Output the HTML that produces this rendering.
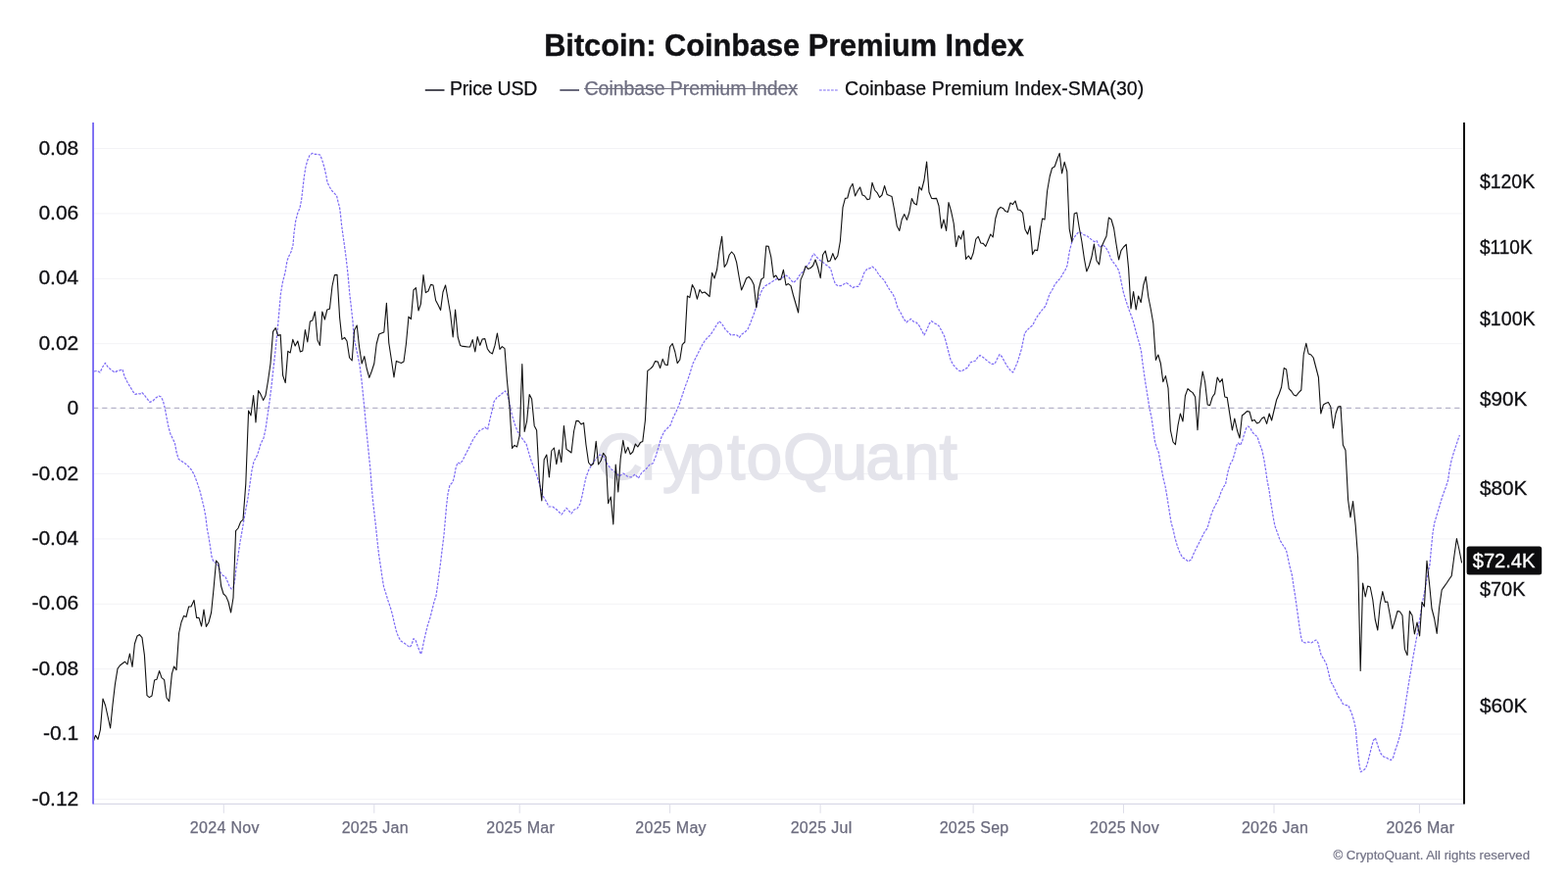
<!DOCTYPE html>
<html><head><meta charset="utf-8"><title>Bitcoin: Coinbase Premium Index</title>
<style>
html,body{margin:0;padding:0;background:#fff;}
body{width:1600px;height:900px;overflow:hidden;position:relative;font-family:"Liberation Sans",Arial,sans-serif;}
svg{position:absolute;left:0;top:0;}
text{font-family:"Liberation Sans",Arial,sans-serif;}
.yl{font-size:21px;letter-spacing:0px;fill:#0e0e12;stroke:#0e0e12;stroke-width:0.3px;text-anchor:end;}
.yr{font-size:20.7px;fill:#0e0e12;stroke:#0e0e12;stroke-width:0.3px;text-anchor:start;}
.xl{font-size:16px;letter-spacing:0.3px;fill:#6b6b7e;stroke:#6b6b7e;stroke-width:0.25px;text-anchor:middle;}
.lg{font-size:19.5px;fill:#0e0e12;stroke:#0e0e12;stroke-width:0.25px;}
</style></head>
<body>
<svg width="1600" height="900" viewBox="0 0 1600 900">
<rect width="1600" height="900" fill="#fff"/>
<!-- title -->
<text id="title" x="800" y="57" text-anchor="middle" font-size="31.8" font-weight="bold" fill="#111114" stroke="#111114" stroke-width="0.4" textLength="489.6" lengthAdjust="spacingAndGlyphs">Bitcoin: Coinbase Premium Index</text>
<!-- legend -->
<g id="legend">
<line x1="433.8" y1="92" x2="453.5" y2="92" stroke="#4e4e58" stroke-width="2"/>
<text class="lg" x="459" y="96.5" textLength="89.3">Price USD</text>
<line x1="571.3" y1="92" x2="591" y2="92" stroke="#6a6a7c" stroke-width="2"/>
<text class="lg" x="596.6" y="96.5" fill="#6e6e80" style="fill:#6e6e80;stroke:#6e6e80" textLength="217.5">Coinbase Premium Index</text>
<line x1="596" y1="90.5" x2="814" y2="90.5" stroke="#6e6e80" stroke-width="1.15"/>
<line x1="836" y1="92" x2="855" y2="92" stroke="#7c6af4" stroke-width="1.2" stroke-dasharray="2.7 1.3"/>
<text class="lg" x="862" y="96.5" letter-spacing="0.1">Coinbase Premium Index-SMA(30)</text>
</g>
<!-- gridlines -->
<g id="grid" stroke="#f3f3f6" stroke-width="1">
<line x1="96" x2="1492.5" y1="151.5" y2="151.5"/>
<line x1="96" x2="1492.5" y1="217.9" y2="217.9"/>
<line x1="96" x2="1492.5" y1="284.3" y2="284.3"/>
<line x1="96" x2="1492.5" y1="350.7" y2="350.7"/>
<line x1="96" x2="1492.5" y1="483.5" y2="483.5"/>
<line x1="96" x2="1492.5" y1="549.9" y2="549.9"/>
<line x1="96" x2="1492.5" y1="616.3" y2="616.3"/>
<line x1="96" x2="1492.5" y1="682.7" y2="682.7"/>
<line x1="96" x2="1492.5" y1="749.1" y2="749.1"/>
<line x1="96" x2="1492.5" y1="815.5" y2="815.5"/>
</g>
<line x1="96" x2="1492.5" y1="417" y2="417" stroke="#f3f3f6" stroke-width="1"/>
<line id="zero" x1="95" x2="1493" y1="416.4" y2="416.4" stroke="#b7b5ca" stroke-width="1.3" stroke-dasharray="5.2 4"/>
<!-- bottom axis -->
<line x1="95" x2="1494" y1="820.4" y2="820.4" stroke="#d9d9e7" stroke-width="1.2"/>
<g id="xticks" stroke="#dddde8" stroke-width="1">
<line x1="228.3" x2="228.3" y1="820.5" y2="829.8"/>
<line x1="381.8" x2="381.8" y1="820.5" y2="829.8"/>
<line x1="530.2" x2="530.2" y1="820.5" y2="829.8"/>
<line x1="683.6" x2="683.6" y1="820.5" y2="829.8"/>
<line x1="837.1" x2="837.1" y1="820.5" y2="829.8"/>
<line x1="993.1" x2="993.1" y1="820.5" y2="829.8"/>
<line x1="1146.5" x2="1146.5" y1="820.5" y2="829.8"/>
<line x1="1300.0" x2="1300.0" y1="820.5" y2="829.8"/>
<line x1="1448.4" x2="1448.4" y1="820.5" y2="829.8"/>
</g>
<!-- watermark -->
<text id="wm" x="608.3 653.9 676.0 702.2 742.0 761.4 799.0 848.5 883.3 922.0 958.6" y="488.8" font-size="66" fill="#e4e4eb" stroke="#e4e4eb" stroke-width="1.6">CryptoQuant</text>
<!-- series placeholder -->
<g id="series" fill="none" stroke-linejoin="round">
<path id="sma" d="M96.0 379.0 L99.0 378.4 L102.0 380.0 L105.0 374.0 L107.4 370.4 L110.0 374.4 L113.0 377.0 L117.0 380.0 L120.0 378.4 L123.0 377.6 L125.0 377.0 L127.0 384.0 L130.0 390.0 L133.0 395.0 L136.0 400.0 L138.0 402.4 L141.0 401.6 L143.0 402.0 L145.0 400.6 L148.0 404.0 L151.0 408.0 L153.0 410.4 L156.0 409.0 L159.0 406.0 L162.0 404.0 L164.4 405.0 L166.4 409.0 L168.4 417.0 L170.0 426.0 L172.0 436.0 L174.0 443.0 L176.4 448.0 L178.4 452.0 L180.0 461.0 L182.0 468.0 L184.0 470.0 L186.0 471.0 L189.0 473.0 L192.0 475.6 L195.0 479.0 L198.0 484.0 L201.0 492.0 L204.0 501.0 L206.0 509.0 L208.4 519.0 L210.0 528.0 L211.4 540.0 L213.0 548.0 L214.4 557.0 L216.0 568.0 L218.0 573.6 L221.0 574.4 L223.0 578.0 L225.0 584.0 L227.0 587.0 L230.0 588.4 L232.0 593.0 L234.0 598.0 L236.0 601.0 L238.0 600.0 L239.6 592.0 L241.0 580.0 L243.0 567.0 L245.0 553.0 L247.0 542.0 L249.0 530.0 L251.0 519.0 L253.0 508.0 L255.0 494.0 L257.0 480.0 L259.0 471.0 L262.0 465.6 L264.0 460.0 L266.0 453.0 L269.0 447.0 L271.0 438.0 L273.0 424.0 L275.0 410.0 L277.0 394.0 L279.0 376.0 L281.0 358.0 L282.4 344.0 L283.6 332.0 L285.0 316.0 L286.4 300.0 L288.4 288.0 L291.0 278.0 L293.0 266.0 L295.0 261.0 L297.0 257.0 L299.0 250.0 L300.0 238.0 L301.6 226.0 L303.6 218.0 L306.0 212.0 L307.6 204.0 L309.0 192.0 L310.4 180.0 L312.0 170.0 L314.0 163.0 L316.0 158.6 L318.6 156.4 L321.6 157.4 L324.0 157.4 L326.6 158.0 L328.6 163.0 L331.0 171.0 L333.0 180.0 L334.0 186.0 L336.4 191.0 L339.0 195.0 L341.6 197.6 L343.6 200.0 L345.0 206.0 L346.6 212.0 L347.6 220.0 L348.6 230.0 L350.0 240.0 L351.4 250.0 L353.0 262.0 L354.4 274.0 L355.6 286.0 L356.8 300.0 L358.0 310.0 L360.0 328.0 L361.0 344.0 L363.6 356.0 L367.0 372.0 L369.0 388.0 L370.6 404.0 L372.0 418.0 L373.6 436.0 L375.0 450.0 L376.4 464.0 L378.0 480.0 L379.0 494.0 L380.4 510.0 L382.0 524.0 L383.6 538.0 L385.0 552.0 L386.6 566.0 L388.4 578.0 L390.0 589.0 L391.6 599.0 L393.6 605.0 L396.0 613.0 L398.4 620.0 L400.4 627.0 L402.4 636.0 L404.4 644.0 L406.4 649.6 L409.0 654.0 L412.0 656.0 L415.0 658.0 L418.0 660.6 L420.0 658.0 L422.0 651.6 L424.4 654.0 L426.4 660.0 L428.4 665.0 L429.6 667.6 L431.0 662.0 L432.6 654.0 L434.4 646.0 L436.4 638.0 L439.0 630.0 L441.0 622.0 L443.0 614.0 L445.0 608.0 L446.4 598.0 L448.0 586.0 L449.6 574.0 L451.0 562.0 L453.0 546.0 L454.4 530.0 L455.6 516.0 L457.0 504.0 L459.0 495.0 L462.0 492.0 L463.6 486.0 L465.0 478.0 L467.0 472.0 L469.6 473.0 L472.0 470.0 L474.4 465.0 L477.0 460.0 L480.0 454.0 L483.0 448.0 L486.0 443.6 L489.0 439.6 L492.0 438.0 L495.0 436.0 L497.6 438.4 L499.0 432.0 L500.6 425.0 L502.4 418.0 L504.0 410.0 L507.0 405.6 L510.0 403.6 L513.0 401.0 L515.6 399.0 L518.0 403.0 L520.0 412.0 L522.0 422.0 L525.0 432.0 L528.0 440.0 L531.0 445.0 L534.0 449.0 L537.0 453.0 L539.0 460.0 L542.0 470.0 L545.0 478.0 L548.0 486.0 L551.0 496.0 L554.0 506.0 L557.0 511.0 L560.0 517.0 L564.0 517.0 L568.0 520.0 L573.0 525.0 L578.0 518.4 L583.0 524.0 L586.0 520.0 L589.0 519.0 L592.0 514.0 L594.0 506.0 L596.0 496.0 L598.0 487.0 L601.0 479.0 L604.0 474.0 L608.0 468.0 L612.0 464.0 L616.0 466.0 L620.0 474.0 L624.0 479.0 L628.0 482.0 L632.0 486.0 L636.0 483.0 L640.0 486.0 L644.0 487.0 L648.0 484.0 L651.4 488.0 L655.0 482.0 L659.0 479.0 L663.0 474.0 L666.0 473.0 L669.0 466.0 L672.0 456.0 L675.0 446.0 L678.0 440.0 L681.0 437.0 L684.0 434.0 L687.0 426.0 L690.0 420.0 L693.0 413.0 L696.0 404.0 L699.0 395.0 L702.0 387.0 L704.0 381.0 L707.0 371.0 L710.0 365.0 L713.0 359.0 L716.0 353.0 L719.0 348.0 L722.0 344.4 L725.0 341.6 L728.0 337.0 L731.0 332.0 L734.0 327.6 L737.0 331.0 L740.0 336.0 L743.0 339.0 L746.0 342.0 L749.0 341.6 L752.0 342.0 L754.4 344.4 L757.0 341.0 L760.0 339.0 L763.0 336.0 L766.0 329.0 L769.0 321.0 L772.0 312.0 L775.0 302.0 L778.0 295.0 L781.0 291.6 L784.0 290.0 L787.0 288.0 L790.0 286.0 L793.0 284.4 L796.0 285.0 L799.0 283.0 L802.0 281.0 L805.0 283.0 L807.0 285.6 L809.4 288.4 L812.0 286.4 L814.0 284.0 L817.0 279.0 L820.0 277.0 L823.0 272.0 L826.0 268.0 L829.0 261.0 L830.6 259.0 L833.0 262.0 L836.0 265.0 L839.0 267.0 L842.0 269.6 L845.0 271.6 L847.6 274.0 L850.0 283.0 L852.4 290.0 L855.0 291.6 L858.0 291.6 L861.0 290.0 L863.6 288.6 L867.0 291.0 L870.0 293.6 L873.0 292.4 L876.0 292.4 L879.0 286.0 L882.0 278.0 L885.0 274.4 L888.0 273.6 L890.0 272.0 L893.0 274.4 L896.0 279.0 L899.0 283.0 L902.0 285.6 L905.0 291.0 L908.0 296.0 L911.0 300.0 L913.0 304.0 L916.0 314.0 L919.0 319.0 L922.0 325.0 L925.0 329.0 L927.0 327.0 L929.6 325.4 L932.0 328.0 L935.0 329.0 L938.0 332.4 L943.0 342.0 L946.0 336.0 L948.4 330.0 L950.4 327.6 L953.0 329.6 L956.0 331.0 L958.4 333.0 L961.0 338.0 L963.6 343.0 L965.6 350.0 L967.6 358.0 L970.0 367.0 L972.4 372.0 L975.0 375.0 L978.0 378.0 L981.0 379.0 L984.0 377.0 L987.6 375.0 L990.0 370.0 L992.4 369.0 L995.6 368.0 L998.0 364.0 L1000.0 362.6 L1003.0 364.4 L1006.0 367.0 L1009.0 369.4 L1012.0 371.4 L1015.0 371.4 L1017.6 366.0 L1020.0 361.6 L1022.4 364.0 L1025.0 369.0 L1028.0 374.0 L1031.0 378.0 L1033.6 380.0 L1036.0 375.0 L1038.4 369.0 L1040.6 362.0 L1042.4 356.0 L1044.0 348.0 L1045.6 340.0 L1048.0 337.0 L1051.0 334.0 L1054.0 331.6 L1056.0 327.0 L1059.0 322.0 L1062.0 318.0 L1065.0 314.4 L1067.0 312.0 L1069.0 306.0 L1071.0 300.0 L1073.6 296.0 L1076.0 291.0 L1079.0 287.0 L1082.0 284.0 L1084.4 279.6 L1087.0 275.6 L1089.0 271.0 L1090.4 262.0 L1091.6 255.0 L1093.0 250.0 L1094.0 246.0 L1097.0 241.0 L1100.0 237.4 L1103.0 237.4 L1106.0 239.6 L1109.0 240.6 L1112.0 243.0 L1115.0 245.6 L1117.0 246.6 L1119.0 245.6 L1122.0 252.4 L1125.0 250.0 L1128.0 252.0 L1131.0 257.0 L1133.6 264.0 L1136.0 267.6 L1139.0 271.6 L1141.6 276.0 L1143.0 282.0 L1144.4 289.0 L1146.0 297.0 L1148.0 304.0 L1150.0 310.0 L1152.4 317.0 L1155.0 324.0 L1157.0 330.0 L1159.0 338.0 L1161.0 345.0 L1163.0 352.0 L1164.6 359.0 L1165.6 368.0 L1167.0 378.0 L1168.4 388.0 L1170.0 398.0 L1171.6 408.0 L1173.0 417.0 L1175.0 426.0 L1177.0 440.0 L1178.4 450.0 L1180.0 456.0 L1182.4 462.0 L1184.0 472.0 L1185.6 480.0 L1187.0 488.0 L1189.0 496.0 L1190.6 505.0 L1192.0 514.0 L1193.6 524.0 L1195.0 533.0 L1197.0 540.0 L1199.0 549.0 L1201.6 558.0 L1204.0 564.0 L1206.6 569.0 L1209.6 570.4 L1212.4 573.0 L1215.6 571.0 L1218.0 565.0 L1220.4 560.0 L1223.0 555.0 L1226.0 549.0 L1229.0 543.0 L1232.0 539.0 L1234.0 532.0 L1236.0 525.0 L1238.4 519.0 L1241.0 514.0 L1243.6 509.0 L1246.0 502.0 L1248.4 497.0 L1250.6 494.0 L1252.0 486.0 L1253.6 479.0 L1255.6 473.0 L1258.0 469.0 L1260.0 462.0 L1262.0 454.0 L1263.6 452.0 L1265.6 454.4 L1267.6 450.0 L1269.6 443.0 L1271.6 437.0 L1273.6 435.0 L1275.6 436.4 L1278.0 441.0 L1280.4 443.6 L1283.0 445.6 L1285.0 452.0 L1288.0 460.0 L1290.0 470.0 L1291.6 480.0 L1293.0 490.0 L1295.0 500.0 L1296.4 510.0 L1298.0 520.0 L1299.6 530.0 L1301.0 537.0 L1303.6 544.0 L1306.0 551.0 L1309.0 556.0 L1312.4 561.0 L1314.0 568.0 L1315.6 576.0 L1317.6 584.0 L1318.4 587.0 L1320.0 598.0 L1321.6 608.0 L1323.0 618.0 L1324.4 628.0 L1326.0 640.0 L1327.6 650.0 L1329.0 655.0 L1332.0 656.0 L1335.0 655.0 L1338.0 656.0 L1341.0 654.0 L1343.0 653.0 L1345.0 656.0 L1348.0 668.0 L1351.0 673.0 L1353.6 678.0 L1355.6 686.0 L1357.6 695.0 L1360.0 699.0 L1363.0 705.0 L1365.6 711.0 L1368.0 713.6 L1370.4 718.4 L1373.0 719.4 L1376.0 720.0 L1378.0 725.0 L1380.0 730.0 L1382.0 737.0 L1383.4 744.0 L1384.4 756.0 L1385.6 768.0 L1387.0 780.0 L1388.4 787.6 L1391.0 786.4 L1393.6 784.0 L1395.6 778.0 L1397.6 770.0 L1399.6 762.0 L1401.4 755.6 L1403.4 753.0 L1405.0 758.0 L1407.0 764.0 L1409.0 769.0 L1411.6 772.0 L1414.4 773.0 L1417.0 774.6 L1419.4 775.6 L1421.6 773.0 L1423.6 766.0 L1426.0 759.0 L1428.4 751.0 L1430.4 742.0 L1432.0 733.0 L1433.6 723.0 L1435.0 713.0 L1436.6 703.0 L1438.0 694.0 L1439.4 686.0 L1441.0 676.0 L1442.4 668.0 L1446.0 648.0 L1448.0 636.0 L1450.0 624.0 L1452.0 612.0 L1454.0 602.0 L1456.0 590.0 L1459.0 576.0 L1460.4 560.0 L1462.0 544.0 L1463.6 534.0 L1466.0 526.0 L1469.0 516.0 L1472.0 506.0 L1475.0 498.0 L1477.6 490.0 L1479.0 480.0 L1481.0 470.0 L1483.6 461.0 L1486.0 454.0 L1488.0 448.0 L1489.4 444.0" stroke="#7c6af4" stroke-width="1.2" stroke-dasharray="2.7 1.3"/>
<path id="price" d="M95.2 757.0 L97.4 750.4 L100.0 754.4 L102.4 744.6 L105.0 713.0 L107.6 720.0 L110.0 731.0 L112.6 743.0 L115.0 719.0 L117.4 698.4 L120.0 682.4 L122.4 679.0 L125.0 677.0 L127.4 675.2 L130.0 678.0 L132.4 667.0 L135.0 680.4 L137.4 657.0 L140.0 649.0 L142.4 647.6 L145.0 650.6 L147.4 668.4 L150.0 709.6 L152.4 711.6 L155.0 710.0 L157.6 694.0 L160.0 693.2 L162.6 684.6 L165.0 691.6 L167.6 693.6 L170.0 712.0 L172.6 715.6 L175.4 687.6 L177.6 680.0 L180.0 683.6 L182.6 646.0 L185.0 635.0 L187.6 628.4 L190.0 629.6 L192.6 619.0 L195.0 619.0 L198.0 612.4 L200.6 630.4 L203.0 630.4 L205.6 639.0 L208.0 622.0 L210.4 639.4 L213.0 635.0 L215.6 625.0 L218.0 601.0 L220.6 572.0 L223.0 575.0 L225.6 598.0 L228.0 606.0 L230.6 608.4 L233.0 614.0 L235.6 625.0 L238.0 610.0 L240.6 541.6 L243.0 539.0 L245.6 532.4 L248.0 530.4 L250.8 493.6 L253.6 419.0 L256.0 424.0 L258.6 403.6 L261.0 431.0 L263.6 398.6 L266.0 402.4 L268.6 408.4 L271.0 403.6 L273.6 388.0 L276.0 371.0 L278.6 338.4 L281.2 334.6 L283.6 342.4 L286.2 341.6 L288.6 383.0 L291.2 390.6 L293.8 358.4 L296.2 360.0 L298.8 346.4 L301.2 353.0 L303.8 348.0 L306.4 359.0 L308.8 358.0 L311.4 336.6 L313.8 349.0 L316.4 328.0 L318.8 327.0 L321.4 318.0 L324.0 347.0 L326.4 352.4 L328.8 318.0 L331.4 326.0 L333.8 316.0 L336.4 315.2 L339.0 292.0 L341.4 280.6 L344.0 280.4 L346.6 324.0 L349.0 346.4 L351.6 344.4 L354.0 348.0 L356.6 365.0 L359.2 368.0 L361.6 337.0 L364.2 332.0 L366.6 354.0 L369.2 371.0 L371.8 363.6 L374.2 376.0 L376.8 385.4 L379.2 379.0 L381.8 371.0 L384.2 351.0 L386.8 341.0 L389.2 340.0 L391.8 339.0 L394.4 309.4 L396.8 350.0 L399.4 367.0 L402.0 385.0 L404.4 368.4 L407.0 369.6 L409.4 370.4 L412.0 369.0 L414.4 351.0 L417.0 323.0 L419.4 325.6 L422.0 296.0 L424.4 293.6 L427.0 317.0 L429.4 310.0 L432.0 280.6 L434.4 298.6 L437.0 297.0 L439.6 290.4 L442.0 291.0 L444.6 306.4 L447.0 311.0 L449.6 316.4 L452.0 298.0 L454.6 291.0 L457.2 306.0 L459.6 320.0 L462.2 344.0 L464.6 316.0 L467.2 344.0 L469.6 352.4 L472.2 353.4 L474.6 353.6 L477.2 354.0 L479.6 354.0 L482.2 346.6 L484.8 359.0 L487.2 343.6 L489.8 352.4 L492.2 346.0 L494.8 345.6 L497.4 356.0 L499.8 359.4 L502.4 361.0 L505.0 352.4 L507.4 340.0 L510.0 356.4 L512.4 353.6 L515.0 355.6 L517.4 388.0 L520.0 415.0 L522.6 457.4 L525.0 454.4 L527.6 456.0 L530.2 444.4 L532.8 371.6 L535.2 440.4 L537.6 430.0 L540.2 402.6 L542.6 407.0 L545.2 434.4 L547.6 439.0 L550.2 488.0 L552.8 511.0 L555.2 469.0 L557.8 464.0 L560.4 487.0 L562.8 460.0 L565.4 457.0 L567.8 473.6 L570.4 459.0 L572.8 471.6 L575.4 434.6 L578.0 458.4 L580.4 460.0 L583.0 462.0 L585.6 440.0 L588.0 429.4 L590.4 429.6 L593.0 433.0 L595.6 431.6 L598.0 454.0 L600.6 472.0 L603.0 475.0 L605.6 473.0 L608.2 450.4 L610.6 474.0 L613.2 470.0 L615.6 462.4 L618.2 466.0 L620.6 513.6 L623.2 507.0 L625.8 535.0 L628.2 474.0 L630.8 502.0 L633.2 468.0 L635.8 449.4 L638.2 462.4 L640.8 456.4 L643.2 463.6 L645.8 461.0 L648.4 453.0 L650.8 456.0 L653.4 451.6 L655.8 450.4 L658.4 429.0 L660.8 378.4 L663.6 376.4 L666.0 374.0 L668.6 368.6 L671.2 369.0 L673.6 375.6 L676.2 366.4 L678.6 372.0 L681.2 372.6 L683.6 354.0 L686.2 350.6 L688.8 359.0 L691.2 370.6 L693.8 367.0 L696.2 351.6 L698.8 349.0 L701.4 302.0 L703.8 303.6 L706.4 290.6 L708.8 295.0 L711.4 305.2 L714.0 295.6 L716.4 299.0 L719.0 298.0 L721.4 300.0 L724.0 302.6 L726.6 278.4 L729.0 284.0 L731.6 275.0 L734.0 256.4 L736.6 241.4 L739.2 272.4 L741.6 269.0 L744.2 260.0 L746.6 257.0 L749.2 260.0 L751.6 267.6 L754.2 283.0 L756.6 296.0 L759.2 290.0 L761.6 284.0 L764.2 282.4 L766.8 285.6 L769.2 290.4 L771.8 314.0 L774.2 295.0 L776.8 285.0 L779.2 283.4 L781.8 251.0 L784.2 251.4 L786.8 262.4 L789.4 283.0 L791.8 281.0 L794.4 285.6 L796.8 285.0 L799.4 275.4 L802.0 291.0 L804.4 289.6 L807.0 291.6 L809.4 301.0 L812.0 310.0 L814.6 319.0 L817.0 285.6 L819.6 279.6 L822.0 271.6 L824.6 274.4 L827.0 273.6 L829.6 271.0 L832.0 265.0 L834.6 273.0 L837.2 283.6 L839.6 260.0 L842.2 256.0 L844.8 267.0 L847.2 266.0 L849.8 258.6 L852.2 265.0 L854.8 261.0 L857.4 246.0 L860.0 211.6 L862.4 202.4 L864.8 202.0 L867.4 192.0 L870.0 187.4 L872.6 200.0 L875.0 195.0 L877.6 191.0 L880.0 199.0 L882.4 200.0 L885.0 203.6 L887.6 203.0 L890.0 186.4 L892.6 194.0 L895.0 196.6 L897.6 201.4 L900.0 199.0 L902.6 189.6 L905.2 198.6 L907.6 199.6 L910.0 200.4 L912.6 214.0 L915.2 230.4 L917.8 235.4 L920.2 224.0 L922.8 218.6 L925.4 224.4 L927.8 217.0 L930.4 202.6 L932.8 207.6 L935.4 209.0 L938.0 190.6 L940.4 194.0 L943.0 184.0 L945.6 165.0 L948.0 196.0 L950.6 202.4 L953.0 202.6 L955.6 202.4 L958.0 210.0 L960.6 233.0 L963.0 224.0 L965.6 235.4 L968.0 206.6 L970.6 215.6 L973.2 228.0 L975.6 251.6 L978.2 240.6 L980.6 244.0 L983.2 235.4 L985.6 264.4 L988.2 261.0 L990.8 264.6 L993.2 258.0 L995.8 244.0 L998.2 241.4 L1000.8 248.0 L1003.2 248.4 L1005.8 251.4 L1008.4 245.0 L1010.8 239.0 L1013.2 242.0 L1015.8 223.0 L1018.4 214.0 L1021.0 211.4 L1023.4 212.4 L1026.0 215.6 L1028.4 216.4 L1031.0 207.0 L1033.4 208.6 L1036.0 205.0 L1038.6 214.0 L1041.0 214.4 L1043.6 217.4 L1046.0 234.0 L1048.6 239.0 L1051.0 230.6 L1053.6 259.6 L1056.0 255.0 L1058.6 255.6 L1061.2 238.0 L1063.6 223.0 L1066.0 224.0 L1068.6 195.0 L1071.2 180.0 L1073.6 171.4 L1076.2 170.0 L1078.6 163.0 L1081.2 156.4 L1083.6 177.0 L1086.2 165.4 L1088.8 175.0 L1091.2 233.6 L1093.8 247.0 L1096.2 218.0 L1098.8 217.0 L1101.2 232.0 L1103.8 246.0 L1106.4 264.0 L1108.8 277.0 L1111.4 271.0 L1114.0 262.0 L1116.4 249.0 L1119.0 266.0 L1121.6 270.0 L1124.0 252.0 L1126.6 246.0 L1129.0 241.0 L1131.4 222.0 L1134.0 224.0 L1136.6 233.0 L1139.0 249.0 L1141.6 265.0 L1144.0 255.6 L1146.6 252.0 L1149.2 249.4 L1151.6 274.0 L1154.0 315.0 L1156.6 297.6 L1159.2 316.0 L1161.6 302.0 L1164.2 308.6 L1166.8 291.0 L1169.2 282.4 L1171.8 303.0 L1174.4 316.0 L1176.8 330.0 L1179.4 367.4 L1181.8 362.0 L1184.4 371.0 L1186.8 389.6 L1189.4 383.6 L1192.0 396.0 L1194.4 439.0 L1197.0 451.0 L1199.4 453.6 L1202.0 434.0 L1204.4 422.0 L1207.0 430.0 L1209.4 404.0 L1212.0 396.6 L1214.6 399.0 L1217.0 400.6 L1219.6 405.0 L1222.0 438.6 L1224.6 398.0 L1227.2 379.0 L1229.6 390.0 L1232.2 413.0 L1234.6 413.6 L1237.2 405.0 L1239.6 401.6 L1242.2 385.0 L1244.8 390.0 L1247.2 386.6 L1249.8 405.0 L1252.2 405.6 L1254.8 422.4 L1257.4 439.0 L1259.8 427.0 L1262.4 439.0 L1265.0 447.0 L1267.4 424.0 L1270.0 422.0 L1272.4 419.6 L1275.0 420.0 L1277.6 429.6 L1280.0 428.4 L1282.6 432.0 L1285.0 431.0 L1287.6 427.0 L1290.0 425.6 L1292.6 432.4 L1295.2 422.0 L1297.6 429.0 L1300.2 418.0 L1302.6 408.0 L1305.2 402.0 L1307.6 395.0 L1310.2 375.6 L1312.6 377.0 L1315.2 396.6 L1317.6 399.0 L1320.2 403.0 L1322.6 404.0 L1325.2 400.6 L1327.8 398.0 L1330.2 362.0 L1332.8 350.4 L1335.2 361.0 L1337.8 362.0 L1340.2 365.0 L1342.8 375.0 L1345.4 385.0 L1347.8 422.0 L1350.4 413.0 L1352.8 411.6 L1355.4 410.6 L1357.8 415.0 L1360.4 437.0 L1363.0 422.0 L1365.4 415.0 L1368.0 414.6 L1370.4 454.0 L1373.0 459.6 L1375.6 510.0 L1378.0 528.0 L1380.6 511.6 L1383.2 536.4 L1385.6 569.0 L1388.2 684.4 L1390.6 595.0 L1393.2 609.0 L1395.6 598.0 L1398.2 599.0 L1400.8 612.0 L1403.2 632.0 L1405.8 643.0 L1408.2 617.0 L1410.8 603.6 L1413.4 614.4 L1415.8 614.0 L1418.4 628.0 L1420.8 641.6 L1423.4 633.0 L1426.0 623.6 L1428.4 624.0 L1431.0 628.0 L1433.4 662.4 L1436.0 668.6 L1438.4 623.6 L1441.0 628.0 L1443.4 647.0 L1446.0 635.0 L1448.6 649.0 L1451.0 614.4 L1453.4 619.0 L1456.0 572.4 L1458.6 596.0 L1461.0 621.0 L1463.6 631.0 L1466.2 646.4 L1468.6 620.0 L1471.2 602.0 L1473.6 598.6 L1476.2 595.0 L1478.8 591.0 L1481.2 587.6 L1483.8 568.0 L1486.4 549.6 L1488.8 560.0 L1491.6 574.4" stroke="#111111" stroke-width="1.1"/>
</g>
<!-- axes -->
<line x1="95.05" x2="95.05" y1="125" y2="820.5" stroke="#7b6cf3" stroke-width="1.9"/>
<line x1="1494" x2="1494" y1="125" y2="820.5" stroke="#0a0a0a" stroke-width="2"/>
<!-- left labels -->
<g id="yleft">
<text class="yl" x="80.3" y="157.5">0.08</text>
<text class="yl" x="80.3" y="223.9">0.06</text>
<text class="yl" x="80.3" y="290.3">0.04</text>
<text class="yl" x="80.3" y="356.7">0.02</text>
<text class="yl" x="80.3" y="423.1">0</text>
<text class="yl" x="80.3" y="489.5">-0.02</text>
<text class="yl" x="80.3" y="555.9">-0.04</text>
<text class="yl" x="80.3" y="622.3">-0.06</text>
<text class="yl" x="80.3" y="688.7">-0.08</text>
<text class="yl" x="80.3" y="755.1">-0.1</text>
<text class="yl" x="80.3" y="821.5">-0.12</text>
</g>
<!-- right labels -->
<g id="yright">
<text class="yr" x="1509.9" y="191.8" textLength="56.3" lengthAdjust="spacingAndGlyphs">$120K</text>
<text class="yr" x="1509.9" y="258.9" textLength="53.8" lengthAdjust="spacingAndGlyphs">$110K</text>
<text class="yr" x="1509.9" y="332.4" textLength="56.8" lengthAdjust="spacingAndGlyphs">$100K</text>
<text class="yr" x="1509.9" y="413.8" textLength="48.3" lengthAdjust="spacingAndGlyphs">$90K</text>
<text class="yr" x="1509.9" y="504.6" textLength="48.5" lengthAdjust="spacingAndGlyphs">$80K</text>
<text class="yr" x="1509.9" y="607.7" textLength="46.6" lengthAdjust="spacingAndGlyphs">$70K</text>
<text class="yr" x="1509.9" y="726.7" textLength="48.5" lengthAdjust="spacingAndGlyphs">$60K</text>
</g>
<rect x="1496.6" y="557.4" width="76.6" height="29" rx="2.5" fill="#0c0c0e"/>
<text x="1534.6" y="579.3" text-anchor="middle" font-size="20.6" fill="#fff" stroke="#fff" stroke-width="0.35" textLength="63.8" lengthAdjust="spacingAndGlyphs">$72.4K</text>
<!-- x labels -->
<g id="xlabels">
<text class="xl" x="229.3" y="849.9">2024 Nov</text>
<text class="xl" x="382.8" y="849.9">2025 Jan</text>
<text class="xl" x="531.2" y="849.9">2025 Mar</text>
<text class="xl" x="684.6" y="849.9">2025 May</text>
<text class="xl" x="838.1" y="849.9">2025 Jul</text>
<text class="xl" x="994.1" y="849.9">2025 Sep</text>
<text class="xl" x="1147.5" y="849.9">2025 Nov</text>
<text class="xl" x="1301.0" y="849.9">2026 Jan</text>
<text class="xl" x="1449.4" y="849.9">2026 Mar</text>
</g>
<text x="1561" y="877.4" text-anchor="end" font-size="13.3" fill="#737386" stroke="#737386" stroke-width="0.2" textLength="200.6" lengthAdjust="spacingAndGlyphs">© CryptoQuant. All rights reserved</text>
</svg>
</body></html>
